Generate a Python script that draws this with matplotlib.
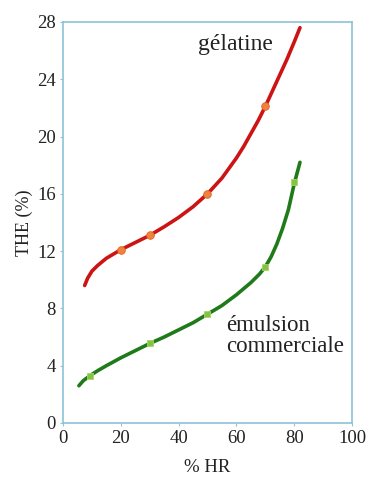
#!/usr/bin/env python3
"""THE (%) versus % HR for gelatine and a commercial emulsion."""

import matplotlib as mpl
mpl.use('Agg')
import matplotlib.pyplot as plt

# gelatine curve
gel_curve_hr = [7.5, 8.5, 10, 12, 15, 17.5, 20, 25, 30, 35, 40, 45, 50, 55,
                60, 62.5, 65, 67.5, 70, 72.5, 75, 77.5, 80, 82]
gel_curve_the = [9.6, 10.1, 10.6, 11.0, 11.5, 11.8, 12.1, 12.6, 13.1, 13.7,
                 14.35, 15.1, 16.0, 17.1, 18.5, 19.3, 20.2, 21.1, 22.1, 23.2,
                 24.3, 25.4, 26.6, 27.6]
gel_pts_hr = [20, 30, 50, 70]
gel_pts_the = [12.1, 13.1, 16.0, 22.1]

# emulsion curve
emu_curve_hr = [5.5, 7, 9.3, 12, 15, 20, 25, 30, 35, 40, 45, 50, 55, 60, 65,
                68, 70, 72, 74, 76, 78, 80, 82]
emu_curve_the = [2.6, 2.95, 3.3, 3.65, 4.0, 4.55, 5.05, 5.55, 6.0, 6.5, 7.0,
                 7.6, 8.2, 8.95, 9.8, 10.4, 10.9, 11.6, 12.5, 13.6, 14.9,
                 16.7, 18.2]
emu_pts_hr = [9.3, 30, 50, 70, 80]
emu_pts_the = [3.3, 5.6, 7.6, 10.9, 16.8]

x_ticks = [0, 20, 40, 60, 80, 100]
y_ticks = [0, 4, 8, 12, 16, 20, 24, 28]


def main():
    mpl.rc('font', family=['Liberation Serif', 'DejaVu Serif'])
    fig = plt.figure(figsize=(3.68, 4.78), dpi=100)
    ax = fig.add_axes([0.1712, 0.1151, 0.7853, 0.8389])

    ax.plot(gel_curve_hr, gel_curve_the, color='#cc1414', lw=2.6,
            solid_capstyle='round', solid_joinstyle='round', zorder=2)
    ax.plot(gel_pts_hr, gel_pts_the, 'o', color='#f0823c', ms=5.5,
            mec='#e06428', mew=0.6, zorder=3)

    ax.plot(emu_curve_hr, emu_curve_the, color='#1f7a1a', lw=2.6,
            solid_capstyle='round', solid_joinstyle='round', zorder=2)
    ax.plot(emu_pts_hr, emu_pts_the, 's', color='#86c246', ms=4.8,
            mec='#a6d860', mew=0.6, zorder=3)

    ax.text(59.5, 26.4, 'gélatine', fontsize=17, color='#222222',
            ha='center', va='center')
    ax.text(56.5, 6.05, 'émulsion\ncommerciale', fontsize=16.5,
            color='#222222', ha='left', va='center', linespacing=1.0)

    ax.set_xlim(0, 100)
    ax.set_ylim(0, 28)
    ax.set_xticks(x_ticks)
    ax.set_yticks(y_ticks)
    ax.tick_params(colors='#8cc4d8', labelcolor='#222222', labelsize=13.5,
                   length=2, width=0.8, direction='out', pad=3)
    for s in ax.spines.values():
        s.set_color('#8cc4d8')
        s.set_linewidth(1.2)

    ax.set_xlabel('% HR', fontsize=13.5, color='#222222', labelpad=9)
    ax.set_ylabel('THE (%)', fontsize=13, color='#222222', labelpad=3)

    fig.savefig('out.png', dpi=100)


if __name__ == '__main__':
    main()
